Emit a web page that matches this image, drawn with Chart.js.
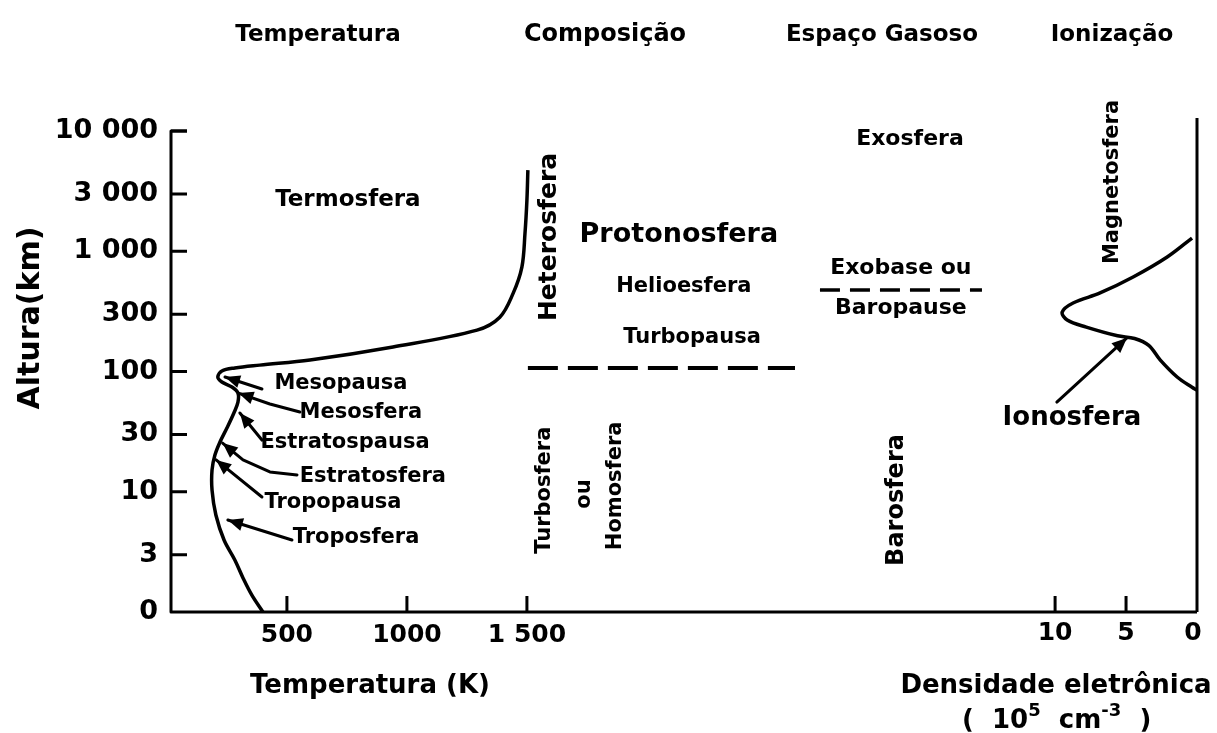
<!DOCTYPE html>
<html lang="pt">
<head>
<meta charset="UTF-8">
<title>Estrutura da atmosfera</title>
<script src="https://cdn.jsdelivr.net/npm/chart.js"></script>
<style>
  html, body { margin: 0; padding: 0; background: #fff; }
  canvas { display: block; }
</style>
</head>
<body>
<canvas id="chart" width="1217" height="733"></canvas>
<script>
// altitude axis (km, log scale) - the "0" label sits at 1 km
const altTicks = [1, 3, 10, 30, 100, 300, 1000, 3000, 10000];
const altLabels = ['0', '3', '10', '30', '100', '300', '1 000', '3 000', '10 000'];
const tempTicks = [500, 1000, 1500];
const tempLabels = ['500', '1000', '1 500'];
const densTicks = [10, 5, 0];

// temperature profile (K) vs altitude (km), from the ground up
const tempK = [400, 354, 317, 283, 238, 204, 188, 188, 200, 221, 250, 279, 296, 296, 271, 229,
               212, 229, 283, 387, 596, 942, 1292, 1387, 1442, 1479, 1492, 1500, 1504];
const tempAlt = [1, 1.38, 1.92, 2.71, 3.97, 6.41, 10.3, 15.2, 20.2, 25.9, 33.9, 45.2, 55.7, 66.2, 74.3, 81.8,
                 90, 101, 107, 113, 124.6, 160, 221, 283, 444, 738, 1413, 2663, 4732];

// electron density (10^5 cm^-3) vs altitude (km), top down
const densVal = [0.35, 2.1, 4.5, 6.83, 8.73, 9.5, 9.15, 7.8, 5.6, 4.4, 3.4, 2.6, 1.4, 0.35, 0];
const densAlt = [1288, 896, 611, 450, 371, 312, 268, 234, 198, 188, 165, 125, 90, 74, 70];

// turbopause and exobase levels
const turbopausaT = [1504, 2617];
const turbopausaAlt = 107;
const exobaseT = [2721, 3396];
const exobaseAlt = 476;

const FONT = '"DejaVu Sans", sans-serif';

function drawText(ctx, text, x, y, size, rot) {
  ctx.save();
  ctx.translate(x, y);
  if (rot) ctx.rotate(rot);
  ctx.font = 'bold ' + size + 'px ' + FONT;
  ctx.textAlign = 'center';
  ctx.textBaseline = 'middle';
  ctx.fillText(text, 0, 0);
  ctx.restore();
}

function drawArrow(ctx, pts) {
  ctx.beginPath();
  ctx.moveTo(pts[0][0], pts[0][1]);
  for (let i = 1; i < pts.length; i++) ctx.lineTo(pts[i][0], pts[i][1]);
  const [hx, hy] = pts[pts.length - 1];
  const [px, py] = pts[pts.length - 2];
  const ang = Math.atan2(hy - py, hx - px);
  ctx.stroke();
  ctx.beginPath();
  ctx.moveTo(hx, hy);
  ctx.lineTo(hx - 15 * Math.cos(ang) + 6.5 * Math.sin(ang), hy - 15 * Math.sin(ang) - 6.5 * Math.cos(ang));
  ctx.lineTo(hx - 15 * Math.cos(ang) - 6.5 * Math.sin(ang), hy - 15 * Math.sin(ang) + 6.5 * Math.cos(ang));
  ctx.closePath();
  ctx.fill();
}

const framePlugin = {
  id: 'frame',
  afterDraw(chart) {
    const { ctx, chartArea: a, scales } = chart;
    const px = T => scales.x.getPixelForValue(T);
    const py = h => scales.y.getPixelForValue(h);
    const dx = n => scales.x2.getPixelForValue(n);
    ctx.save();
    ctx.strokeStyle = '#000';
    ctx.fillStyle = '#000';
    ctx.lineWidth = 3;
    ctx.lineJoin = 'round';

    // axes lines
    ctx.beginPath();
    ctx.moveTo(a.left + 16, a.top);
    ctx.lineTo(a.left, a.top);
    ctx.lineTo(a.left, a.bottom);
    ctx.lineTo(a.right, a.bottom);
    ctx.moveTo(dx(0), a.bottom);
    ctx.lineTo(dx(0), a.top - 13);
    ctx.stroke();

    // inward tick marks
    ctx.beginPath();
    altTicks.slice(1).forEach(v => { ctx.moveTo(a.left, py(v)); ctx.lineTo(a.left + 16, py(v)); });
    tempTicks.forEach(v => { ctx.moveTo(px(v), a.bottom); ctx.lineTo(px(v), a.bottom - 16); });
    densTicks.filter(v => v > 0).forEach(v => { ctx.moveTo(dx(v), a.bottom); ctx.lineTo(dx(v), a.bottom - 16); });
    ctx.stroke();

    // density tick labels
    densTicks.forEach(v => drawText(ctx, String(v), dx(v) - (v === 0 ? 4 : 0), a.bottom + 21, 25));

    // headers
    drawText(ctx, 'Temperatura', 318, 35, 23);
    drawText(ctx, 'Composição', 605, 35, 24);
    drawText(ctx, 'Espaço Gasoso', 882, 35, 23);
    drawText(ctx, 'Ionização', 1112, 35, 23);

    // axis titles
    drawText(ctx, 'Altura(km)', 31, 318, 30, -Math.PI / 2);
    drawText(ctx, 'Temperatura (K)', 370, 686, 26);
    drawText(ctx, 'Densidade eletrônica', 1056, 686, 26);
    // ( 10^5 cm^-3 )
    ctx.textAlign = 'left';
    ctx.textBaseline = 'middle';
    let cx = 962;
    const put = (s, size, dy) => {
      ctx.font = 'bold ' + size + 'px ' + FONT;
      ctx.fillText(s, cx, 721 + dy);
      cx += ctx.measureText(s).width;
    };
    put('(  10', 26, 0); put('5', 18, -10); put('  cm', 26, 0); put('-3', 18, -10); put('  )', 26, 0);

    // region labels (positioned in temperature / altitude units)
    const notes = [
      ['Termosfera', 754, 2667, 23, 0],
      ['Heterosfera', 1596, 1314, 25, -Math.PI / 2],
      ['Protonosfera', 2133, 1365, 27, 0],
      ['Helioesfera', 2154, 505, 21, 0],
      ['Turbopausa', 2188, 190, 21, 0],
      ['Exosfera', 3096, 8577, 22, 0],
      ['Exobase ou', 3058, 726, 22, 0],
      ['Baropause', 3058, 337, 22, 0],
      ['Magnetosfera', 3942, 3767, 21, -Math.PI / 2],
      ['Ionosfera', 3771, 41, 26, 0],
      ['Mesopausa', 725, 78.7, 21, 0],
      ['Mesosfera', 808, 45.2, 21, 0],
      ['Estratospausa', 742, 25.9, 21, 0],
      ['Estratosfera', 858, 13.5, 21, 0],
      ['Tropopausa', 692, 8.06, 21, 0],
      ['Troposfera', 788, 4.2, 21, 0],
      ['Turbosfera', 1575, 10.3, 21, -Math.PI / 2],
      ['ou', 1742, 9.58, 21, -Math.PI / 2],
      ['Homosfera', 1871, 11.2, 21, -Math.PI / 2],
      ['Barosfera', 3042, 8.54, 24, -Math.PI / 2]
    ];
    notes.forEach(n => drawText(ctx, n[0], px(n[1]), py(n[2]), n[3], n[4]));

    // arrows to the curves
    ctx.lineWidth = 3;
    ctx.lineCap = 'round';
    const arrows = [
      [[396, 71.5], [242, 90]],
      [[554, 46], [429, 53.7], [298, 66.2]],
      [[396, 26.9], [304, 45.2]],
      [[542, 13.8], [429, 14.6], [317, 18.4], [232, 25.4]],
      [[396, 9.04], [205, 18.4]],
      [[521, 3.97], [254, 5.82]],
      [[3708, 55.7], [4000, 190]]
    ];
    arrows.forEach(p => drawArrow(ctx, p.map(q => [px(q[0]), py(q[1])])));
    ctx.restore();
  }
};

const lineStyle = { showLine: true, borderColor: '#000', pointRadius: 0, fill: false };

new Chart(document.getElementById('chart'), {
  type: 'scatter',
  data: {
    datasets: [
      Object.assign({ data: tempK.map((t, i) => ({ x: t, y: tempAlt[i] })), xAxisID: 'x',
        borderWidth: 3.5, tension: 0.35 }, lineStyle),
      Object.assign({ data: densVal.map((v, i) => ({ x: v, y: densAlt[i] })), xAxisID: 'x2',
        borderWidth: 3.5, tension: 0.35 }, lineStyle),
      Object.assign({ data: turbopausaT.map(t => ({ x: t, y: turbopausaAlt })), xAxisID: 'x',
        borderWidth: 4, borderDash: [30, 10] }, lineStyle),
      Object.assign({ data: exobaseT.map(t => ({ x: t, y: exobaseAlt })), xAxisID: 'x',
        borderWidth: 3.5, borderDash: [20, 10] }, lineStyle)
    ]
  },
  options: {
    responsive: false,
    animation: false,
    devicePixelRatio: 1,
    layout: { padding: { left: 0, top: 131, right: 20, bottom: 0 } },
    plugins: { legend: { display: false }, tooltip: { enabled: false } },
    scales: {
      x: {
        type: 'linear', position: 'bottom', min: 17, max: 4292,
        afterBuildTicks: s => { s.ticks = tempTicks.map(v => ({ value: v })); },
        afterFit: s => { s.height = 121; },
        grid: { display: false, drawTicks: false },
        border: { display: false },
        ticks: {
          padding: 8, color: '#000', maxRotation: 0, autoSkip: false,
          font: { family: FONT, weight: 'bold', size: 25 },
          callback: (v, i) => tempLabels[i]
        }
      },
      x2: { type: 'linear', display: false, min: 0, max: 72.3, reverse: true },
      y: {
        type: 'logarithmic', position: 'left', min: 1, max: 10000,
        afterBuildTicks: s => { s.ticks = altTicks.map(v => ({ value: v })); },
        afterFit: s => { s.width = 171; },
        grid: { display: false, drawTicks: false },
        border: { display: false },
        ticks: {
          padding: 13, color: '#000', autoSkip: false,
          font: { family: FONT, weight: 'bold', size: 27 },
          callback: (v, i) => altLabels[i]
        }
      }
    }
  },
  plugins: [framePlugin]
});
</script>
</body>
</html>
